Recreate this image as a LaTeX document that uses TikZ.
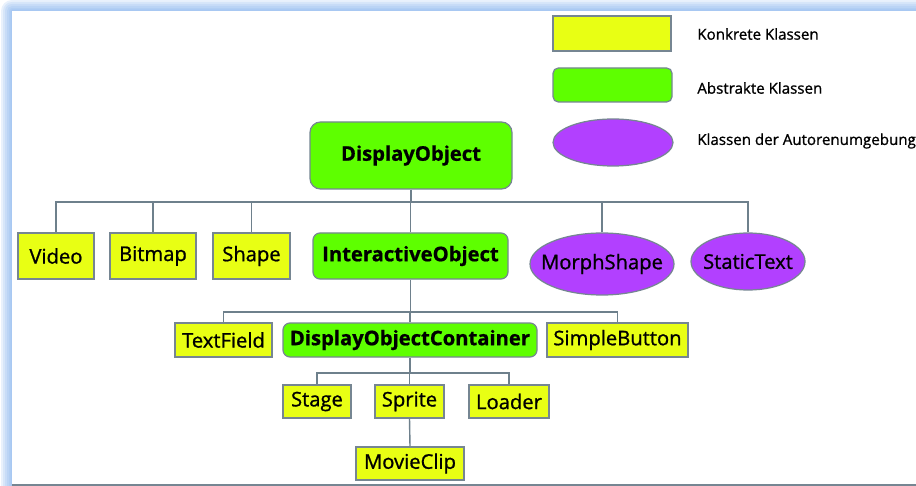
\documentclass[tikz,border=0pt]{standalone}
\usepackage{fontspec}
\setmainfont{Open Sans}[BoldFeatures={FakeBold=0.8}]
\newfontfamily\labelfont{Open Sans}[FakeBold=1.0]
\usetikzlibrary{shapes.geometric}
\definecolor{konkret}{RGB}{232,255,20}
\definecolor{abstrakt}{RGB}{94,255,0}
\definecolor{autor}{RGB}{178,64,255}
\definecolor{rand}{RGB}{118,134,146}
\definecolor{linie}{RGB}{110,128,140}
\definecolor{glow}{RGB}{120,170,235}
\newcommand\pxu{0.02cm}
\newcommand\nowidth[1]{\makebox[0pt]{#1}}
\tikzset{
  x=0.02cm, y=-0.02cm,
  base/.style={draw=rand, line width=0.7pt, inner sep=0pt, font=\labelfont\fontsize{11.5}{13}\selectfont},
  concrete/.style={base, fill=konkret, rectangle},
  abstract/.style={base, fill=abstrakt, rectangle, rounded corners=4pt, font=\fontsize{11.5}{13}\selectfont\bfseries},
  authoring/.style={base, fill=autor, ellipse},
  legendtext/.style={anchor=west, inner sep=0pt, font=\labelfont\fontsize{8.6}{10}\selectfont},
  conn/.style={draw=linie, line width=0.8pt},
}
\begin{document}
\begin{tikzpicture}
\useasboundingbox (0,0) rectangle (916,486);
\begin{scope}
\clip (0,0) rectangle (916,486);
% soft blue glow round the panel
\foreach \d in {11,9,7,5,3,1.5}
  \fill[glow, opacity=0.16, rounded corners=\d*0.02cm] ({12-\d},{11-\d}) rectangle (960,530);
\fill[white] (12,11) rectangle (960,485);
\draw[rand, line width=0.8pt] (12,485) -- (960,485);
\end{scope}

% legend
\node[concrete, minimum width={118*\pxu}, minimum height={35*\pxu}] (lk) at (612,33.5) {};
\node[abstract, rounded corners=3pt, minimum width={119*\pxu}, minimum height={34*\pxu}] (la) at (612.5,85) {};
\node[authoring, minimum width={120*\pxu}, minimum height={47*\pxu}] (le) at (613,142.5) {};
\node[legendtext] (tk) at (697,34) {Konkrete Klassen};
\node[legendtext] (ta) at (697,88) {Abstrakte Klassen};
\node[legendtext] (te) at (697,141) {Klassen der Autorenumgebung};

% hierarchy
\node[abstract, rounded corners=6pt, minimum width={202*\pxu}, minimum height={67*\pxu}] (do) at (411,155.5) {DisplayObject};

\node[concrete, minimum width={76*\pxu}, minimum height={46*\pxu}] (video) at (56,256) {Video};
\node[concrete, minimum width={86*\pxu}, minimum height={46*\pxu}] (bitmap) at (153,256) {Bitmap};
\node[concrete, minimum width={77*\pxu}, minimum height={46*\pxu}] (shape) at (251.5,256) {Shape};
\node[abstract, minimum width={195*\pxu}, minimum height={46*\pxu}] (io) at (410.5,256) {InteractiveObject};
\node[authoring, minimum width={144*\pxu}, minimum height={62*\pxu}] (morph) at (602,264) {\nowidth{MorphShape}};
\node[authoring, minimum width={114*\pxu}, minimum height={57*\pxu}] (static) at (748,261.5) {\nowidth{StaticText}};

\node[concrete, minimum width={97*\pxu}, minimum height={34*\pxu}] (tf) at (223.5,340) {TextField};
\node[abstract, minimum width={254*\pxu}, minimum height={34*\pxu}] (doc) at (410,340) {DisplayObjectContainer};
\node[concrete, minimum width={141*\pxu}, minimum height={34*\pxu}] (sb) at (617.5,340) {SimpleButton};

\node[concrete, minimum width={68*\pxu}, minimum height={33*\pxu}] (stage) at (317,401.5) {Stage};
\node[concrete, minimum width={69*\pxu}, minimum height={33*\pxu}] (sprite) at (409.5,401.5) {Sprite};
\node[concrete, minimum width={80*\pxu}, minimum height={33*\pxu}] (loader) at (509,401.5) {Loader};

\node[concrete, minimum width={108*\pxu}, minimum height={33*\pxu}] (mc) at (410,463.5) {MovieClip};

% bus lines
\coordinate (busA) at (0,202);
\coordinate (busB) at (0,312);
\coordinate (busC) at (0,373);

\draw[conn] (do.south) -- (do.south |- busA);
\draw[conn] (video.north) -- (video.north |- busA) -- (static.north |- busA) -- (static.north);
\foreach \n in {bitmap,shape,io,morph}
  \draw[conn] (\n.north) -- (\n.north |- busA);

\draw[conn] (io.south) -- (io.south |- busB);
\draw[conn] (tf.north) -- (tf.north |- busB) -- (sb.north |- busB) -- (sb.north);
\draw[conn] (doc.north) -- (doc.north |- busB);

\draw[conn] (doc.south) -- (doc.south |- busC);
\draw[conn] (stage.north) -- (stage.north |- busC) -- (loader.north |- busC) -- (loader.north);
\draw[conn] (sprite.north) -- (sprite.north |- busC);

\draw[conn] (sprite.south) -- (mc.north);
\end{tikzpicture}
\end{document}
